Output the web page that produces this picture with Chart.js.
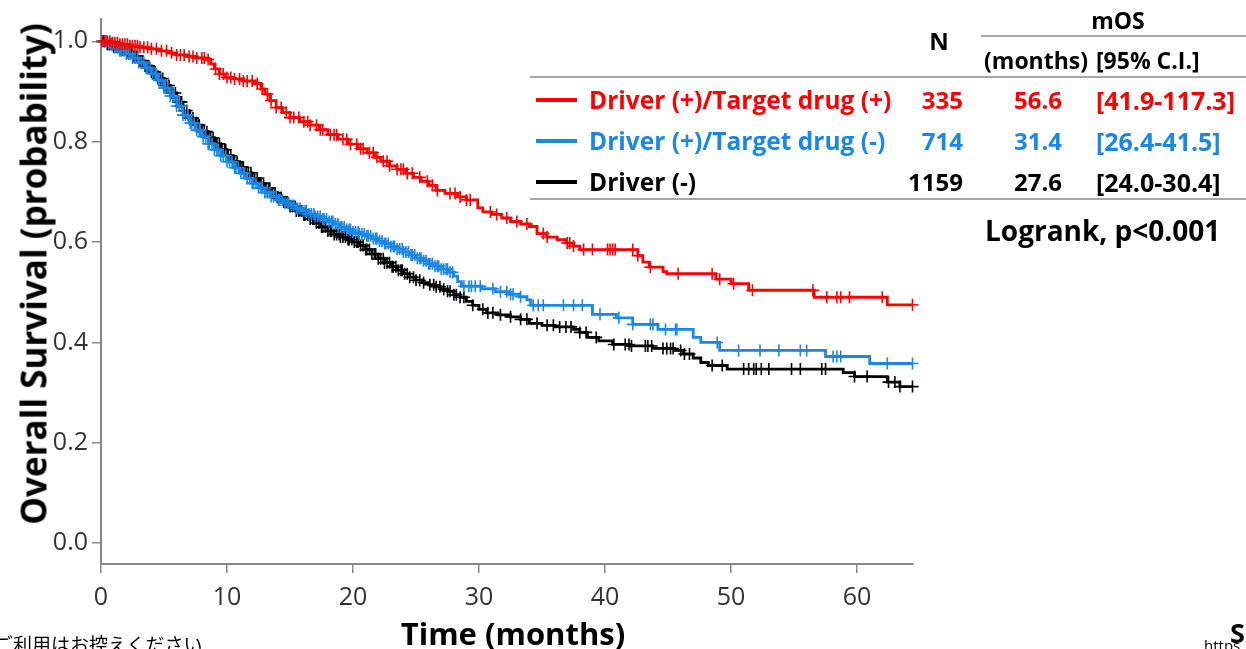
<!DOCTYPE html>
<html>
<head>
<meta charset="utf-8">
<script src="https://cdn.jsdelivr.net/npm/chart.js@4.4.1/dist/chart.umd.min.js"></script>
<style>
  body { margin: 0; background: #fff; }
  #wrap { position: relative; width: 1246px; height: 649px; overflow: hidden; font-family: "Open Sans", "Noto Sans", sans-serif; }
  #km { position: absolute; left: 0; top: 0; }
  .t { position: absolute; font-weight: bold; line-height: 1; white-space: nowrap; transform: translateY(-50%); }
  .rule { position: absolute; height: 2px; background: #a8a8a8; }
  .swatch { position: absolute; height: 4px; width: 41px; transform: translateY(-50%); }
</style>
</head>
<body>
<div id="wrap">
  <canvas id="km" width="1246" height="649"></canvas>
</div>
<script>
// survival steps: [months, probability] at each drop
const redSteps = [[0,1.0],[0.8,0.997],[1.5,0.994],[2.3,0.991],[3.0,0.988],[3.8,0.985],[4.6,0.981],[5.3,0.977],[6.0,0.973],[6.8,0.970],[7.5,0.967],[8.3,0.964],[8.7,0.955],[9.0,0.945],[9.4,0.935],[9.8,0.928],[10.5,0.925],[11.3,0.921],[12.2,0.916],[12.7,0.905],[13.0,0.895],[13.4,0.882],[13.9,0.868],[14.4,0.858],[15.0,0.848],[15.8,0.840],[16.6,0.833],[17.3,0.824],[18.0,0.814],[18.8,0.805],[19.6,0.795],[20.4,0.786],[21.1,0.778],[21.7,0.769],[22.2,0.761],[22.9,0.752],[23.5,0.745],[24.2,0.737],[24.8,0.729],[25.4,0.721],[26.0,0.713],[26.6,0.703],[27.3,0.697],[28.3,0.690],[29.0,0.684],[29.9,0.668],[30.3,0.660],[31.0,0.655],[31.8,0.648],[32.5,0.641],[33.3,0.636],[34.0,0.631],[34.6,0.617],[35.4,0.610],[36.2,0.605],[36.9,0.598],[37.5,0.592],[38.0,0.585],[42.6,0.573],[43.0,0.560],[43.5,0.550],[44.6,0.541],[44.9,0.537],[48.8,0.526],[50.0,0.517],[51.4,0.504],[56.6,0.490],[62.4,0.475],[64.4,0.475]];
const blueSteps = [[0,1.0],[0.5,0.993],[1.0,0.987],[1.5,0.981],[2.0,0.975],[2.5,0.967],[3.0,0.958],[3.5,0.947],[4.0,0.935],[4.5,0.922],[5.0,0.907],[5.5,0.891],[6.0,0.871],[6.5,0.853],[7.0,0.837],[7.5,0.823],[8.0,0.810],[8.5,0.796],[9.0,0.784],[9.5,0.772],[10.0,0.760],[10.5,0.748],[11.0,0.737],[11.5,0.727],[12.0,0.717],[12.5,0.708],[13.0,0.699],[13.5,0.691],[14.0,0.684],[14.5,0.678],[15.0,0.673],[15.5,0.667],[16.0,0.662],[16.5,0.656],[17.0,0.651],[17.5,0.646],[18.0,0.641],[18.5,0.636],[19.0,0.630],[19.5,0.625],[20.0,0.620],[20.5,0.616],[21.0,0.612],[21.5,0.607],[22.0,0.602],[22.5,0.597],[23.0,0.591],[23.5,0.586],[24.0,0.580],[24.5,0.574],[25.0,0.568],[25.5,0.563],[26.0,0.557],[26.5,0.552],[27.0,0.546],[27.6,0.540],[28.0,0.532],[28.3,0.521],[28.6,0.512],[30.2,0.507],[31.3,0.501],[32.4,0.496],[33.2,0.491],[33.8,0.485],[34.1,0.474],[39.0,0.456],[40.9,0.449],[42.2,0.436],[44.2,0.426],[47.0,0.410],[47.6,0.400],[49.1,0.384],[57.5,0.372],[61.0,0.358],[64.4,0.358]];
const blackSteps = [[0,1.0],[0.5,0.994],[1.0,0.989],[1.5,0.983],[2.0,0.977],[2.5,0.970],[3.0,0.961],[3.5,0.951],[4.0,0.939],[4.5,0.926],[5.0,0.912],[5.5,0.897],[6.0,0.879],[6.5,0.862],[7.0,0.847],[7.5,0.833],[8.0,0.820],[8.5,0.808],[9.0,0.796],[9.5,0.784],[10.0,0.772],[10.5,0.760],[11.0,0.749],[11.5,0.738],[12.0,0.727],[12.5,0.717],[13.0,0.707],[13.5,0.698],[14.0,0.689],[14.5,0.680],[15.0,0.671],[15.5,0.662],[16.0,0.654],[16.5,0.646],[17.0,0.638],[17.5,0.630],[18.0,0.622],[18.5,0.615],[19.0,0.610],[19.5,0.605],[20.0,0.600],[20.5,0.593],[21.0,0.585],[21.5,0.576],[22.0,0.567],[22.5,0.559],[23.0,0.551],[23.5,0.544],[24.0,0.537],[24.5,0.530],[25.0,0.524],[25.5,0.519],[26.0,0.515],[26.5,0.511],[27.0,0.506],[27.5,0.502],[28.0,0.495],[28.5,0.490],[29.0,0.482],[29.5,0.474],[30.0,0.466],[30.6,0.459],[31.5,0.455],[32.5,0.451],[33.3,0.446],[34.0,0.438],[35.0,0.434],[36.0,0.431],[37.5,0.426],[38.0,0.420],[38.6,0.410],[39.5,0.403],[40.6,0.396],[42.0,0.393],[43.8,0.388],[45.5,0.384],[46.2,0.377],[47.0,0.369],[47.6,0.360],[48.2,0.354],[49.7,0.347],[58.9,0.340],[59.8,0.332],[62.4,0.321],[63.4,0.312],[64.4,0.312]];

// censored observation times (months)
const redCensor = [0.1,0.3,0.5,0.7,0.9,1.1,1.3,1.5,1.7,1.9,2.1,2.3,2.5,2.7,2.9,3.1,3.4,3.7,4.0,4.4,4.8,5.2,5.6,6.0,6.3,6.6,7.0,7.3,7.6,8.0,8.2,8.5,9.1,9.4,9.7,10.0,10.3,10.6,11.0,11.3,11.6,12.0,12.4,12.8,13.2,13.5,13.9,14.3,14.7,15.0,15.3,15.7,16.1,16.4,16.6,17.1,17.4,17.6,18.2,18.5,18.7,19.2,19.5,19.8,20.3,20.6,20.8,21.3,21.6,21.9,22.4,22.7,22.9,23.5,23.8,24.0,24.3,24.7,25.3,25.9,26.3,26.7,27.7,28.1,28.5,29.0,29.3,30.9,31.4,32.2,33.0,33.8,35.1,35.4,37.0,37.2,37.5,38.3,39.0,40.2,40.4,40.6,40.8,42.2,42.6,43.6,45.8,48.5,49.1,50.2,51.7,56.5,57.6,58.4,58.7,59.4,62.0,64.4];
const blueCensor = [0.1,0.3,0.4,0.6,0.8,0.9,1.1,1.3,1.5,1.6,1.8,2.0,2.2,2.3,2.5,2.7,2.9,3.0,3.2,3.4,3.6,3.7,3.9,4.1,4.3,4.4,4.6,4.8,5.0,5.1,5.3,5.5,5.7,5.8,6.0,6.2,6.4,6.5,6.7,6.9,7.1,7.2,7.4,7.6,7.8,7.9,8.1,8.3,8.5,8.6,8.8,9.0,9.2,9.3,9.5,9.7,9.9,10.0,10.2,10.4,10.6,10.7,10.9,11.1,11.3,11.4,11.6,11.8,12.0,12.1,12.3,12.5,12.7,12.8,13.0,13.2,13.4,13.5,13.7,13.9,14.1,14.2,14.4,14.6,14.8,14.9,15.1,15.3,15.5,15.6,15.8,16.0,16.2,16.3,16.5,16.7,16.9,17.0,17.2,17.4,17.6,17.7,17.9,18.1,18.3,18.4,18.6,18.8,19.0,19.1,19.3,19.5,19.7,19.8,20.0,20.2,20.4,20.5,20.7,20.9,21.1,21.2,21.4,21.6,21.8,21.9,22.1,22.3,22.5,22.6,22.8,23.0,23.2,23.3,23.5,23.7,23.9,24.0,24.2,24.4,24.6,24.7,24.9,25.1,25.3,25.4,25.6,25.8,26.0,26.1,26.3,26.5,26.7,26.8,27.0,27.2,27.4,27.5,27.7,27.9,28.8,29.2,29.4,29.7,30.1,31.1,31.7,32.2,32.5,32.7,33.3,34.3,34.7,35.1,36.7,37.5,38.2,39.6,41.1,42.2,43.6,43.8,44.8,45.6,45.7,48.9,50.6,52.3,53.8,55.5,56.0,58.1,58.4,58.7,62.4,64.4];
const blackCensor = [0.2,0.3,0.5,0.7,0.8,1.0,1.2,1.4,1.5,1.7,1.9,2.1,2.2,2.4,2.6,2.8,2.9,3.1,3.3,3.5,3.6,3.8,4.0,4.2,4.3,4.5,4.7,4.9,5.0,5.2,5.4,5.6,5.7,5.9,6.1,6.3,6.4,6.6,6.8,7.0,7.1,7.3,7.5,7.7,7.8,8.0,8.2,8.4,8.5,8.7,8.9,9.1,9.2,9.4,9.6,9.8,9.9,10.1,10.3,10.5,10.6,10.8,11.0,11.2,11.3,11.5,11.7,11.9,12.0,12.2,12.4,12.6,12.7,12.9,13.1,13.3,13.4,13.6,13.8,14.0,14.1,14.3,14.5,14.7,14.8,15.0,15.2,15.4,15.5,15.7,15.9,16.1,16.2,16.4,16.6,16.8,16.9,17.1,17.3,17.5,17.6,17.8,18.0,18.2,18.3,18.5,18.7,18.9,19.0,19.2,19.4,19.6,19.7,19.9,20.1,20.3,20.4,20.6,20.8,21.0,21.1,21.3,21.5,21.7,21.8,22.0,22.2,22.4,22.5,22.7,22.9,23.1,23.2,23.4,23.6,23.8,23.9,24.1,24.3,24.5,24.8,25.0,25.3,25.6,26.1,26.4,26.6,26.9,27.2,27.5,27.7,28.0,28.2,28.5,28.8,29.5,30.3,30.7,31.1,31.7,32.5,33.3,33.8,34.6,35.4,35.9,36.4,36.9,37.3,38.0,38.5,39.3,40.7,41.6,41.9,42.1,43.2,43.4,43.7,44.6,44.9,45.2,45.4,46.0,46.3,46.7,48.5,49.3,51.0,51.4,51.8,52.0,52.4,53.0,54.8,55.5,57.2,57.5,59.8,60.8,62.5,63.0,63.4,64.4];

const groupNames = ["Driver (+)/Target drug (+)", "Driver (+)/Target drug (-)", "Driver (-)"];
const groupN = ["335", "714", "1159"];
const groupMOS = ["56.6", "31.4", "27.6"];
const groupCI = ["[41.9-117.3]", "[26.4-41.5]", "[24.0-30.4]"];

const xTicks = [0, 10, 20, 30, 40, 50, 60];
const yTicks = [0.0, 0.2, 0.4, 0.6, 0.8, 1.0];

const colors = ["#ff0000", "#1a87e6", "#000000"];
const FONT = '"Open Sans", "Noto Sans", sans-serif';

function stepPoints(steps) {
    return steps.map(p => ({ x: p[0], y: p[1] }));
}

// a censor mark sits on the curve at the level held at that time
function censorPoints(steps, times) {
    return times.map(t => {
        let s = steps[0][1];
        for (const p of steps) {
            if (p[0] <= t) s = p[1];
        }
        return { x: t, y: s };
    });
}

const allSteps = [redSteps, blueSteps, blackSteps];
const allCensor = [redCensor, blueCensor, blackCensor];

const datasets = [];
for (let i = 0; i < 3; i++) {
    datasets.push({
        data: censorPoints(allSteps[i], allCensor[i]),
        showLine: false,
        pointStyle: "cross",
        pointRadius: 6,
        pointBorderWidth: 1.6,
        pointBorderColor: colors[i],
        pointBackgroundColor: colors[i],
        clip: false
    });
    datasets.push({
        data: stepPoints(allSteps[i]),
        stepped: "before",
        borderColor: colors[i],
        borderWidth: 2.8,
        pointRadius: 0,
        fill: false,
        clip: false
    });
}

new Chart(document.getElementById("km"), {
    type: "line",
    data: { datasets: datasets },
    options: {
        responsive: false,
        animation: false,
        events: [],
        layout: { padding: { top: 9, right: 333, left: 0, bottom: 0 } },
        plugins: { legend: { display: false }, tooltip: { enabled: false } },
        scales: {
            x: {
                type: "linear",
                min: 0,
                max: 64.44,
                afterBuildTicks: s => { s.ticks = xTicks.map(v => ({ value: v })); },
                afterFit: s => { s.height = 85; },
                ticks: { color: "#333", font: { family: FONT, size: 25 }, padding: 10, maxRotation: 0, autoSkip: false, callback: v => String(v) },
                grid: { drawOnChartArea: false, tickLength: 9, color: "#888", lineWidth: 1.5 },
                border: { color: "#888", width: 2 }
            },
            y: {
                type: "linear",
                min: -0.0415,
                max: 1.0445,
                afterBuildTicks: s => { s.ticks = yTicks.map(v => ({ value: v })); },
                afterFit: s => { s.width = 101; },
                ticks: { color: "#333", font: { family: FONT, size: 25 }, padding: 4, callback: v => v.toFixed(1) },
                grid: { drawOnChartArea: false, tickLength: 9, color: "#888", lineWidth: 1.5 },
                border: { color: "#888", width: 2 }
            }
        }
    }
});

// axis titles and table beside the plot
const wrap = document.getElementById("wrap");
function addText(txt, opts) {
    const d = document.createElement("div");
    d.className = "t";
    d.textContent = txt;
    d.style.top = opts.y + "px";
    d.style.fontSize = (opts.size || 24) + "px";
    d.style.color = opts.color || "#000";
    if (opts.weight) d.style.fontWeight = opts.weight;
    if (opts.family) d.style.fontFamily = opts.family;
    if (opts.right !== undefined) { d.style.right = (1246 - opts.right) + "px"; }
    else if (opts.center !== undefined) {
        d.style.left = opts.center + "px";
        d.style.transform = "translate(-50%,-50%)" + (opts.rotate ? " rotate(-90deg)" : "");
    }
    else { d.style.left = opts.left + "px"; }
    wrap.appendChild(d);
}
function addRule(x1, x2, y) {
    const r = document.createElement("div");
    r.className = "rule";
    r.style.left = x1 + "px";
    r.style.width = (x2 - x1) + "px";
    r.style.top = (y - 1) + "px";
    wrap.appendChild(r);
}

addText("Overall Survival (probability)", { center: 33, y: 274, size: 35, rotate: true });
addText("Time (months)", { center: 513, y: 633, size: 31 });

addText("mOS", { center: 1118, y: 20, size: 23 });
addText("N", { center: 939, y: 41, size: 24 });
addText("(months)", { left: 984, y: 60, size: 23 });
addText("[95% C.I.]", { left: 1096, y: 60, size: 23 });
addRule(981, 1246, 36);
addRule(530, 1246, 77);
addRule(530, 1246, 199);

const rowY = [100, 141, 182];
for (let i = 0; i < 3; i++) {
    const sw = document.createElement("div");
    sw.className = "swatch";
    sw.style.left = "536px";
    sw.style.top = rowY[i] + "px";
    sw.style.background = colors[i];
    wrap.appendChild(sw);
    addText(groupNames[i], { left: 589, y: rowY[i], color: colors[i], size: 24.5 });
    addText(groupN[i], { right: 963, y: rowY[i], color: colors[i] });
    addText(groupMOS[i], { right: 1062, y: rowY[i], color: colors[i] });
    addText(groupCI[i], { left: 1096, y: rowY[i], color: colors[i], size: 25 });
}
addText("Logrank, p<0.001", { left: 985, y: 230, size: 28 });

// clipped page footer fragments
addText("ご利用はお控えください", { left: -6, y: 643, size: 19, weight: "normal", family: '"Noto Sans CJK JP", sans-serif' });
addText("https", { left: 1204, y: 645, size: 15, weight: "normal" });
addText("S", { left: 1230, y: 632, size: 27 });
</script>
</body>
</html>
